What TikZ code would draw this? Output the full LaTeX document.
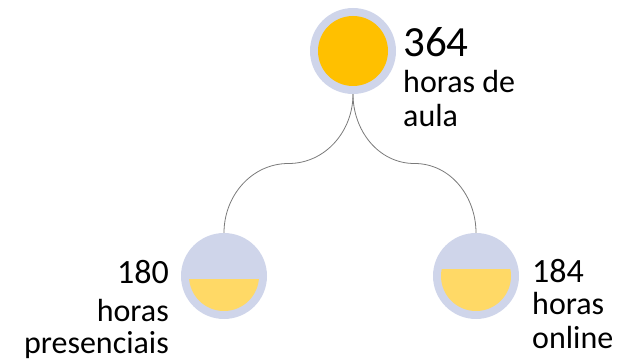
\documentclass[tikz,border=0pt]{standalone}
\usepackage{fontspec}
\setmainfont{Carlito}
\definecolor{lav}{HTML}{CFD5EA}
\definecolor{gold}{HTML}{FFC000}
\definecolor{lgold}{HTML}{FFD966}
\definecolor{lin}{HTML}{7A7A7A}
\begin{document}
\begin{tikzpicture}[x=1pt,y=-1pt,
  outer/.style={circle,fill=lav,minimum size=86pt,inner sep=0pt},
  inner/.style={circle,fill=gold,minimum size=70pt,inner sep=0pt},
  conn/.style={draw=lin,line width=0.8pt},
  big/.style={font=\fontsize{43}{43}\selectfont,inner sep=0pt},
  mid/.style={font=\fontsize{34}{34}\selectfont,inner sep=0pt},
  lab/.style={font=\fontsize{32}{32}\selectfont,inner sep=0pt}]
\useasboundingbox (0,0) rectangle (621,363);
% circles
\node[outer] (top) at (353,51) {};
\node[inner] (topin) at (353,51) {};
\node[outer] (left) at (224,276) {};
\node[outer] (right) at (476,276) {};
\begin{scope}
  \clip (180,280) rectangle (270,320);
  \fill[lgold] (224,276) circle[radius=35pt];
\end{scope}
\begin{scope}
  \clip (430,270) rectangle (520,320);
  \fill[lgold] (476,276) circle[radius=35pt];
\end{scope}
% connectors
\coordinate (ml) at (288.5,163.5);
\coordinate (mr) at (414.5,163.5);
\draw[conn] (top.south) to[out=-90,in=0] (ml) to[out=180,in=90] (left.north);
\draw[conn] (top.south) to[out=-90,in=180] (mr) to[out=0,in=90] (right.north);
% texts
\node[big,anchor=base west] (t1) at (403,57) {364};
\node[lab,anchor=base west] (t2) at (403,93) {horas de};
\node[lab,anchor=base west] (t3) at (403,127) {aula};
\node[mid,anchor=base east] (l1) at (169,284) {180};
\node[lab,anchor=base east] (l2) at (169,322) {horas};
\node[lab,anchor=base east] (l3) at (169,353) {presenciais};
\node[mid,anchor=base west] (r1) at (532,283) {184};
\node[lab,anchor=base west] (r2) at (532,315) {horas};
\node[lab,anchor=base west] (r3) at (532,348) {online};
\end{tikzpicture}
\end{document}
